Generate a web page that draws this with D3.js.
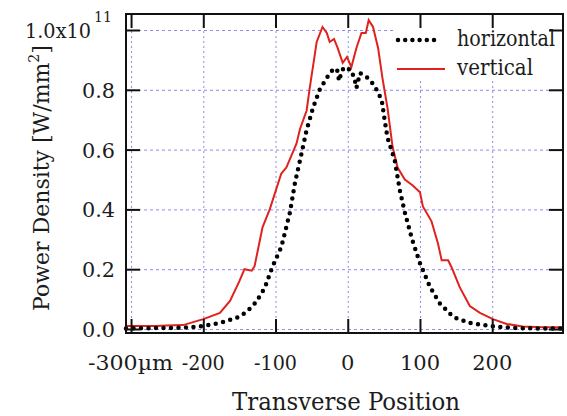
<!DOCTYPE html>
<html>
<head>
<meta charset="utf-8">
<script src="https://cdn.jsdelivr.net/npm/d3@7"></script>
<style>
  body { margin: 0; background: #fff; }
</style>
</head>
<body>
<svg id="chart" width="567" height="416"></svg>
<script>
// tick values / labels
const xTicks = [-300, -200, -100, 0, 100, 200];
const xTickLabels = ['-300\u00b5m', '-200', '-100', '0', '100', '200'];
const yTicks = [0, 0.2, 0.4, 0.6, 0.8, 1.0];
const yTickLabels = ['0.0', '0.2', '0.4', '0.6', '0.8', '1.0x10'];

// vertical profile (red), units of 1e11 W/mm^2
const vertX = [-307,-265,-251,-228,-200,-177,-163,-150,-143,-133,-129,-118,-108,-92,-85,-71,-66,-57,-53,-43,-35,-29,-25,-19,-14,-7,-1,5,12,19,25,29,35,42,48,55,62,69,79,90,100,104,116,125,130,139,144,155,169,183,201,220,242,270,298];
const vertY = [0.01,0.01,0.012,0.013,0.033,0.054,0.094,0.16,0.2,0.195,0.21,0.34,0.4,0.52,0.54,0.62,0.67,0.73,0.8,0.96,1.01,0.99,0.96,0.97,0.94,0.89,0.91,0.876,0.94,0.99,0.99,1.033,1.01,0.94,0.84,0.74,0.61,0.54,0.5,0.48,0.457,0.41,0.36,0.285,0.23,0.23,0.205,0.14,0.077,0.054,0.033,0.017,0.008,0.006,0.006];

// horizontal profile (black dots)
const horzX = [-307,-265,-228,-200,-177,-154,-140,-127,-115,-104,-92,-80,-73,-66,-57,-48,-39,-29,-21,-15,-12,-8,-4,0,5,10,12,17,26,33,40,47,51,55,65,72,79,89,100,114,127,146,169,197,229,260,298];
const horzY = [0.002,0.003,0.004,0.01,0.02,0.037,0.057,0.09,0.137,0.21,0.274,0.39,0.49,0.565,0.665,0.74,0.80,0.84,0.866,0.87,0.83,0.865,0.876,0.87,0.866,0.83,0.806,0.856,0.843,0.826,0.80,0.766,0.70,0.64,0.565,0.465,0.39,0.30,0.22,0.14,0.087,0.04,0.02,0.01,0.003,0.002,0.002];

const svg = d3.select('#chart');
const mLeft = 126, mRight = 563, mTop = 14, mBottom = 333;
const serif = 'DejaVu Serif';
const ink = '#1c1c1c';

const x = d3.scaleLinear().domain([-307, 298]).range([mLeft, mRight]);
const y = d3.scaleLinear().domain([-0.0134, 1.0535]).range([mBottom, mTop]);

// grid
const gridColor = '#8c8ce8';
svg.append('g')
  .attr('transform', `translate(0,${mBottom})`)
  .call(d3.axisBottom(x).tickValues(xTicks).tickSize(-(mBottom - mTop)).tickFormat(''))
  .call(g => g.select('.domain').remove())
  .selectAll('line')
  .attr('stroke', gridColor).attr('stroke-width', 1).attr('stroke-dasharray', '2,3');

svg.append('g')
  .attr('transform', `translate(${mLeft},0)`)
  .call(d3.axisLeft(y).tickValues(yTicks).tickSize(-(mRight - mLeft)).tickFormat(''))
  .call(g => g.select('.domain').remove())
  .selectAll('line')
  .attr('stroke', gridColor).attr('stroke-width', 1).attr('stroke-dasharray', '3,3');

// legend background hides the grid
svg.append('rect')
  .attr('x', 393).attr('y', 18).attr('width', 169).attr('height', 62)
  .attr('fill', '#fff');

const line = (xs, ys) => d3.line()
  .x((d, i) => x(xs[i]))
  .y((d, i) => y(ys[i]))(xs);

svg.append('path')
  .attr('d', line(vertX, vertY))
  .attr('fill', 'none')
  .attr('stroke', '#e0221e')
  .attr('stroke-width', 2);

svg.append('path')
  .attr('d', line(horzX, horzY))
  .attr('fill', 'none')
  .attr('stroke', '#000')
  .attr('stroke-width', 4.5)
  .attr('stroke-linecap', 'round')
  .attr('stroke-dasharray', '0,7.5');

// ticks pointing inward on all four sides
const tickLen = 14;
const styleTicks = g => {
  g.select('.domain').remove();
  g.selectAll('line').attr('stroke', '#111').attr('stroke-width', 2);
};
svg.append('g').attr('transform', `translate(0,${mBottom})`)
  .call(d3.axisBottom(x).tickValues(xTicks).tickSize(-tickLen).tickFormat('')).call(styleTicks);
svg.append('g').attr('transform', `translate(0,${mTop})`)
  .call(d3.axisTop(x).tickValues(xTicks).tickSize(-tickLen).tickFormat('')).call(styleTicks);
svg.append('g').attr('transform', `translate(${mLeft},0)`)
  .call(d3.axisLeft(y).tickValues(yTicks).tickSize(-tickLen).tickFormat('')).call(styleTicks);
svg.append('g').attr('transform', `translate(${mRight},0)`)
  .call(d3.axisRight(y).tickValues(yTicks).tickSize(-tickLen).tickFormat('')).call(styleTicks);

// frame
svg.append('rect')
  .attr('x', mLeft).attr('y', mTop)
  .attr('width', mRight - mLeft).attr('height', mBottom - mTop)
  .attr('fill', 'none').attr('stroke', '#111').attr('stroke-width', 2);

const label = (xp, yp, size, str, len) => svg.append('text')
  .attr('x', xp).attr('y', yp)
  .attr('font-family', serif).attr('font-size', size).attr('fill', ink)
  .attr('textLength', len || null)
  .attr('lengthAdjust', 'spacingAndGlyphs')
  .text(str);

// tick labels
svg.append('g').selectAll('text')
  .data(xTicks)
  .join('text')
  .attr('x', (d, i) => i === 0 ? 88 : x(d))
  .attr('y', 370)
  .attr('text-anchor', (d, i) => i === 0 ? 'start' : 'middle')
  .attr('font-family', serif).attr('font-size', 21).attr('fill', ink)
  .attr('textLength', (d, i) => i === 0 ? 85 : (d < 0 ? 43 : null))
  .attr('lengthAdjust', 'spacingAndGlyphs')
  .text((d, i) => xTickLabels[i]);

svg.append('g').selectAll('text')
  .data(yTicks)
  .join('text')
  .attr('x', (d, i) => i === yTicks.length - 1 ? 91 : 115)
  .attr('y', d => y(d) + 8)
  .attr('text-anchor', 'end')
  .attr('font-family', serif).attr('font-size', 21).attr('fill', ink)
  .attr('textLength', (d, i) => i === yTicks.length - 1 ? 66 : 33)
  .attr('lengthAdjust', 'spacingAndGlyphs')
  .text((d, i) => yTickLabels[i]);

label(94, y(1.0) - 8, 14, '11');

// axis titles
label(232, 410, 24, 'Transverse Position', 228);

const yTitle = svg.append('text')
  .attr('transform', 'translate(49,178) rotate(-90)')
  .attr('text-anchor', 'middle')
  .attr('font-family', serif).attr('font-size', 22).attr('fill', ink);
yTitle.append('tspan').text('Power Density [W/mm');
yTitle.append('tspan').attr('font-size', 14).attr('dy', -10).text('2');
yTitle.append('tspan').attr('dy', 10).text(']');

// legend
svg.append('line')
  .attr('x1', 398).attr('x2', 441).attr('y1', 40).attr('y2', 40)
  .attr('stroke', '#000').attr('stroke-width', 4.5)
  .attr('stroke-linecap', 'round').attr('stroke-dasharray', '0,7.2');
label(457, 46, 22, 'horizontal', 98);

svg.append('line')
  .attr('x1', 397).attr('x2', 445).attr('y1', 69).attr('y2', 69)
  .attr('stroke', '#e0221e').attr('stroke-width', 2);
label(457, 75, 22, 'vertical', 76);
</script>
</body>
</html>
